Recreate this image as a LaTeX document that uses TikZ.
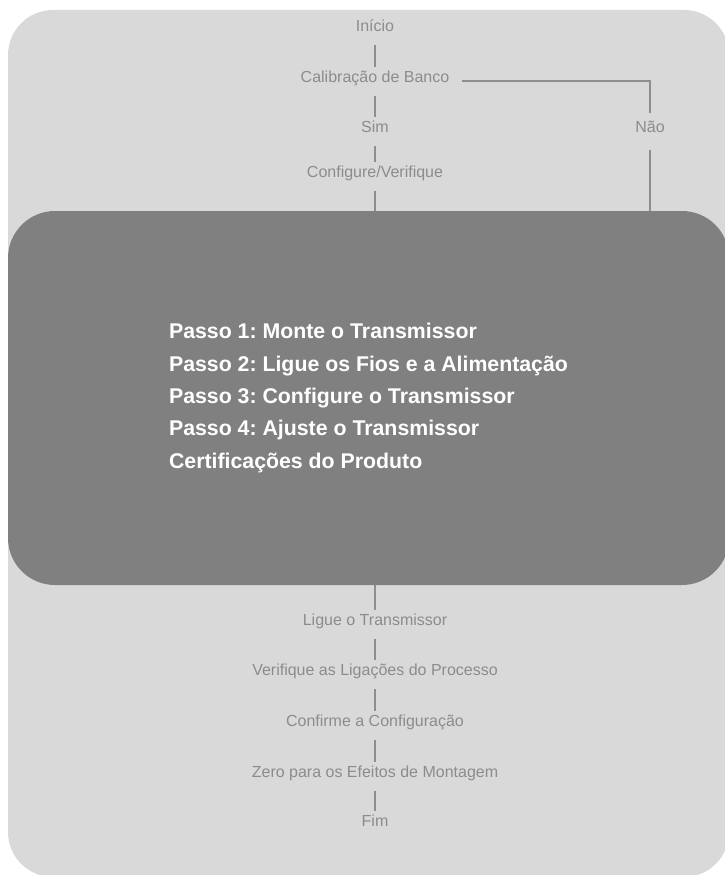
\documentclass[tikz,border=0pt]{standalone}
\usepackage{fontspec}
\setmainfont{Liberation Sans}
\frenchspacing
\definecolor{lightbg}{HTML}{D9D9D9}
\definecolor{darkbg}{HTML}{808080}
\definecolor{linegray}{HTML}{8E8E8E}
\definecolor{labelgray}{HTML}{8C8C8C}
\begin{document}
\begin{tikzpicture}[x=1pt,y=-1pt,
  lbl/.style={inner sep=0pt, text height=12pt, text depth=3pt, text=labelgray,
    font=\fontsize{16}{19}\selectfont},
  conn/.style={draw=linegray, line width=2.8pt, shorten <=10pt, shorten >=3pt},
  mainbox/.style={fill=darkbg, rounded corners=47pt, minimum width=721pt,
    minimum height=374pt, inner sep=0pt, align=left, text=white,
    font=\fontsize{21.3}{32.3}\selectfont\bfseries\frenchspacing}
]
\useasboundingbox (0,0) rectangle (724,875);
\fill[lightbg, rounded corners=45pt] (8,10) rectangle (729,877);

\node[lbl] (inicio) at (375,27) {Início};
\node[lbl] (calib) at (375,78) {Calibração de Banco};
\node[lbl] (sim) at (375,128) {Sim};
\node[lbl] (nao) at (650,128) {Não};
\node[lbl] (conf) at (375,173) {Configure/Verifique};

\node[mainbox] (box) at (368.5,398) {Passo 1: Monte o Transmissor\\
Passo 2: Ligue os Fios e a Alimentação\\
Passo 3: Configure o Transmissor\\
Passo 4: Ajuste o Transmissor\\
Certificações do Produto};

\node[lbl] (ligue) at (375,621) {Ligue o Transmissor};
\node[lbl] (verif) at (375,671) {Verifique as Ligações do Processo};
\node[lbl] (confirme) at (375,722) {Confirme a Configuração};
\node[lbl] (zero) at (375,773) {Zero para os Efeitos de Montagem};
\node[lbl] (fim) at (375,822) {Fim};

\draw[conn] (inicio) -- (calib);
\draw[conn] (calib) -- (sim);
\draw[conn] (sim) -- (conf);
\draw[conn, shorten >=0pt] (conf) -- (conf |- box.north);
\draw[conn, shorten <=13pt, shorten >=7pt] ([yshift=-3pt]calib.east) -| (nao.north);
\draw[conn, shorten <=14pt, shorten >=0pt] (nao) -- (nao |- box.north);
\draw[conn, shorten <=0pt] (box.south -| ligue) -- (ligue);
\draw[conn] (ligue) -- (verif);
\draw[conn] (verif) -- (confirme);
\draw[conn] (confirme) -- (zero);
\draw[conn] (zero) -- (fim);
\end{tikzpicture}
\end{document}
